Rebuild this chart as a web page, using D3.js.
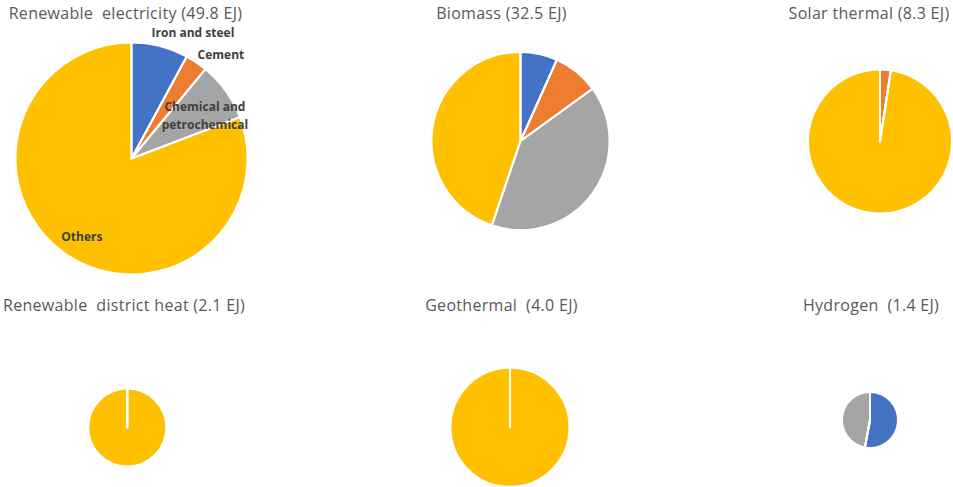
<!DOCTYPE html>
<html>
<head>
<meta charset="utf-8">
<script src="https://cdn.jsdelivr.net/npm/d3@7"></script>
<style>
  body { margin: 0; background: #fff; }
</style>
</head>
<body>
<div id="chart"></div>
<script>
// data (shares of each source, %)
var sectors = ["Iron and steel", "Cement", "Chemical and petrochemical", "Others"];
var titles = ["Renewable  electricity (49.8 EJ)", "Biomass (32.5 EJ)", "Solar thermal (8.3 EJ)",
              "Renewable  district heat (2.1 EJ)", "Geothermal  (4.0 EJ)", "Hydrogen  (1.4 EJ)"];
var renewableElectricity = [7.9, 3.1, 8.2, 80.8];
var biomass = [6.7, 8.3, 40.2, 44.8];
var solarThermal = [0, 2.4, 0, 97.6];
var districtHeat = [0, 0, 0, 100];
var geothermal = [0, 0, 0, 100];
var hydrogen = [52.9, 0, 47.1, 0];

var series = [renewableElectricity, biomass, solarThermal, districtHeat, geothermal, hydrogen];

// layout
var width = 953;
var height = 487;
var colors = ["#4472C4", "#ED7D31", "#A5A5A5", "#FFC000"];
var pies = [
    {cx: 131.5, cy: 158.5, r: 116, tx: 125.5, ty: 19},
    {cx: 520.5, cy: 141, r: 89, tx: 501.5, ty: 19},
    {cx: 880, cy: 141.5, r: 72, tx: 869, ty: 19},
    {cx: 127.3, cy: 427.5, r: 39, tx: 124, ty: 311},
    {cx: 510, cy: 427.3, r: 59.5, tx: 501.5, ty: 311},
    {cx: 870, cy: 420, r: 28, tx: 871, ty: 311}
];
// label nudges for the first pie (relative to slice mid-angle point)
var labelNudge = [[31, -5], [20, -1], [-2, 12], [3, 2]];

var svg = d3.select('#chart')
    .append('svg')
    .attr('width', width)
    .attr('height', height);

var pie = d3.pie().sort(null).value(d => d);
var color = d3.scaleOrdinal().domain(sectors).range(colors);

series.forEach(function(values, k) {
    var p = pies[k];
    var arcs = pie(values);
    var arc = d3.arc().innerRadius(0).outerRadius(p.r);

    var g = svg.append('g')
        .attr('transform', 'translate(' + p.cx + ',' + p.cy + ')');

    // fills
    g.selectAll('path.fill')
        .data(arcs)
        .enter()
        .append('path')
        .attr('class', 'fill')
        .attr('d', arc)
        .attr('fill', (d, i) => color(sectors[i]));

    // white borders on top
    g.selectAll('path.edge')
        .data(arcs)
        .enter()
        .append('path')
        .attr('class', 'edge')
        .attr('d', arc)
        .attr('fill', 'none')
        .attr('stroke', 'white')
        .attr('stroke-width', 2)
        .attr('stroke-linejoin', 'round');

    svg.append('text')
        .attr('x', p.tx)
        .attr('y', p.ty)
        .attr('text-anchor', 'middle')
        .style('font-family', '"Open Sans", sans-serif')
        .style('font-size', '16px')
        .style('letter-spacing', '0.3px')
        .style('white-space', 'pre')
        .attr('fill', '#595959')
        .text(titles[k]);

    // category labels only on the first pie
    if (k === 0) {
        var outArc = d3.arc().innerRadius(p.r + 8).outerRadius(p.r + 8);
        var inArc = d3.arc().innerRadius(p.r * 0.8).outerRadius(p.r * 0.8);
        arcs.forEach(function(d, i) {
            var outside = i < 2;
            var c = outside ? outArc.centroid(d) : inArc.centroid(d);
            var x = c[0] + labelNudge[i][0];
            var y = c[1] + labelNudge[i][1];
            var lines = i === 2 ? ["Chemical and", "petrochemical"] : [sectors[i]];
            var t = g.append('text')
                .attr('text-anchor', 'middle')
                .style('font-family', '"Open Sans", sans-serif')
                .style('font-size', '12px')
                .attr('font-weight', 700)
                .attr('fill', '#404040');
            lines.forEach(function(line, j) {
                t.append('tspan')
                    .attr('x', x)
                    .attr('y', y + (j - (lines.length - 1) / 2) * 18 + 4)
                    .text(line);
            });
        });
    }
});
</script>
</body>
</html>
